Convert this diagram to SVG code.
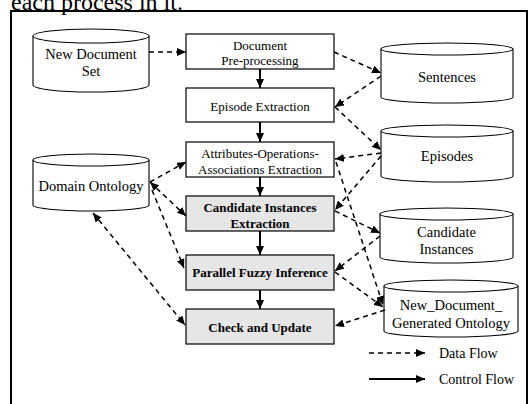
<svg xmlns="http://www.w3.org/2000/svg" width="529" height="404" viewBox="0 0 529 404">
  <defs>
    <marker id="dataHead" markerUnits="userSpaceOnUse" markerWidth="10" markerHeight="8" refX="9" refY="4" orient="auto-start-reverse">
      <path d="M0,0 L9,4 L0,8 Z" fill="#000"/>
    </marker>
    <marker id="ctrlHead" markerUnits="userSpaceOnUse" markerWidth="10" markerHeight="8" refX="9" refY="4" orient="auto">
      <path d="M0,0 L9,4 L0,8 Z" fill="#000"/>
    </marker>
  </defs>
  <style>
    text { font-family: "Liberation Serif", "Times New Roman", serif; fill: #000; text-anchor: middle; }
    .box { fill: #fff; stroke: #000; stroke-width: 1.2; }
    .boxg { fill: #e6e6e6; stroke: #000; stroke-width: 1.2; }
    .lbl { font-size: 13px; }
    .lblb { font-size: 13px; font-weight: bold; }
    .cyl { fill: #fff; stroke: #000; stroke-width: 1.1; }
    .clbl { font-size: 14.5px; }
    .data { fill: none; stroke: #000; stroke-width: 1.5; stroke-dasharray: 5 4; marker-end: url(#dataHead); }
    .ctrl { fill: none; stroke: #000; stroke-width: 2; marker-end: url(#ctrlHead); }
  </style>

  <!-- caption line above the frame -->
  <text x="11" y="10" style="font-size:24px;text-anchor:start">each process in it.</text>

  <!-- frame -->
  <rect x="11" y="11" width="516" height="400" fill="none" stroke="#000" stroke-width="2"/>

  <!-- process boxes -->
  <g id="doc-preprocessing">
    <rect class="box" x="186" y="34" width="148" height="35"/>
    <text class="lbl" x="260" y="49.5">Document</text>
    <text class="lbl" x="260" y="65">Pre-processing</text>
  </g>
  <g id="episode-extraction">
    <rect class="box" x="186" y="88" width="148" height="34"/>
    <text class="lbl" x="260" y="110.5">Episode Extraction</text>
  </g>
  <g id="aoa-extraction">
    <rect class="box" x="186" y="142" width="148" height="35"/>
    <text class="lbl" x="260" y="157.5">Attributes-Operations-</text>
    <text class="lbl" x="260" y="173.5">Associations Extraction</text>
  </g>
  <g id="candidate-extraction">
    <rect class="boxg" x="186" y="196" width="148" height="35"/>
    <text class="lblb" x="260" y="211.5">Candidate Instances</text>
    <text class="lblb" x="260" y="227.5">Extraction</text>
  </g>
  <g id="fuzzy-inference">
    <rect class="boxg" x="186" y="255" width="148" height="35"/>
    <text class="lblb" x="260" y="277">Parallel Fuzzy Inference</text>
  </g>
  <g id="check-update">
    <rect class="boxg" x="186" y="309" width="148" height="35"/>
    <text class="lblb" x="260" y="331.5">Check and Update</text>
  </g>

  <!-- data stores -->
  <g id="new-document-set">
    <path class="cyl" d="M33,36 A58,7 0 0 1 149,36 L149,85 A58,7 0 0 1 33,85 Z"/>
    <path class="cyl" d="M33,36 A58,7 0 0 0 149,36" fill="none"/>
    <text class="clbl" x="91" y="59">New Document</text>
    <text class="clbl" x="91" y="76">Set</text>
  </g>
  <g id="domain-ontology">
    <path class="cyl" d="M33,160 A58,6 0 0 1 149,160 L149,205 A58,6 0 0 1 33,205 Z"/>
    <path class="cyl" d="M33,160 A58,6 0 0 0 149,160" fill="none"/>
    <text class="clbl" x="91" y="191">Domain Ontology</text>
  </g>
  <g id="sentences">
    <path class="cyl" d="M381,49 A66,6 0 0 1 513,49 L513,97 A66,6 0 0 1 381,97 Z"/>
    <path class="cyl" d="M381,49 A66,6 0 0 0 513,49" fill="none"/>
    <text class="clbl" x="447" y="82">Sentences</text>
  </g>
  <g id="episodes">
    <path class="cyl" d="M381,131 A66,6 0 0 1 513,131 L513,176 A66,6 0 0 1 381,176 Z"/>
    <path class="cyl" d="M381,131 A66,6 0 0 0 513,131" fill="none"/>
    <text class="clbl" x="447" y="161">Episodes</text>
  </g>
  <g id="candidate-instances">
    <path class="cyl" d="M380,214 A66.5,6 0 0 1 513,214 L513,257 A66.5,6 0 0 1 380,257 Z"/>
    <path class="cyl" d="M380,214 A66.5,6 0 0 0 513,214" fill="none"/>
    <text class="clbl" x="446.5" y="237">Candidate</text>
    <text class="clbl" x="446.5" y="254">Instances</text>
  </g>
  <g id="generated-ontology">
    <path class="cyl" d="M384,286 A67,6 0 0 1 518,286 L518,331 A67,6 0 0 1 384,331 Z"/>
    <path class="cyl" d="M384,286 A67,6 0 0 0 518,286" fill="none"/>
    <text class="clbl" x="451" y="310">New_Document_</text>
    <text class="clbl" x="451" y="328">Generated Ontology</text>
  </g>

  <!-- connectors -->
  <g id="connectors">
    <!-- control flow -->
    <line class="ctrl" x1="260" y1="69" x2="260" y2="88"/>
    <line class="ctrl" x1="260" y1="122" x2="260" y2="142"/>
    <line class="ctrl" x1="260" y1="177" x2="260" y2="196"/>
    <line class="ctrl" x1="260" y1="231" x2="260" y2="255"/>
    <line class="ctrl" x1="260" y1="290" x2="260" y2="309"/>

    <!-- data flow -->
    <line class="data" x1="149" y1="52" x2="186" y2="52"/>
    <line class="data" x1="334" y1="52" x2="381" y2="73"/>
    <line class="data" x1="381" y1="76" x2="335" y2="107"/>
    <line class="data" x1="335" y1="107" x2="381" y2="150"/>
    <line class="data" x1="381" y1="153" x2="335" y2="159"/>
    <line class="data" x1="381" y1="156" x2="335" y2="210"/>
    <line class="data" x1="336" y1="162" x2="383" y2="305"/>
    <line class="data" x1="335" y1="211" x2="380" y2="233"/>
    <line class="data" x1="380" y1="236" x2="335" y2="271"/>
    <line class="data" x1="335" y1="272" x2="383" y2="307"/>
    <line class="data" x1="385" y1="310" x2="335" y2="326"/>
    <line class="data" x1="150" y1="182" x2="186" y2="162"/>
    <line class="data" x1="150" y1="182" x2="186" y2="216" marker-start="url(#dataHead)"/>
    <line class="data" x1="152" y1="190" x2="184" y2="268"/>
    <line class="data" x1="93" y1="213" x2="185" y2="325" marker-start="url(#dataHead)"/>
  </g>

  <!-- legend -->
  <g id="legend">
    <line class="data" x1="369" y1="353" x2="425" y2="353"/>
    <text style="font-size:14px;text-anchor:start" x="439" y="358">Data Flow</text>
    <line class="ctrl" x1="369" y1="379" x2="425" y2="379"/>
    <text style="font-size:14px;text-anchor:start" x="439" y="384">Control Flow</text>
  </g>
</svg>
